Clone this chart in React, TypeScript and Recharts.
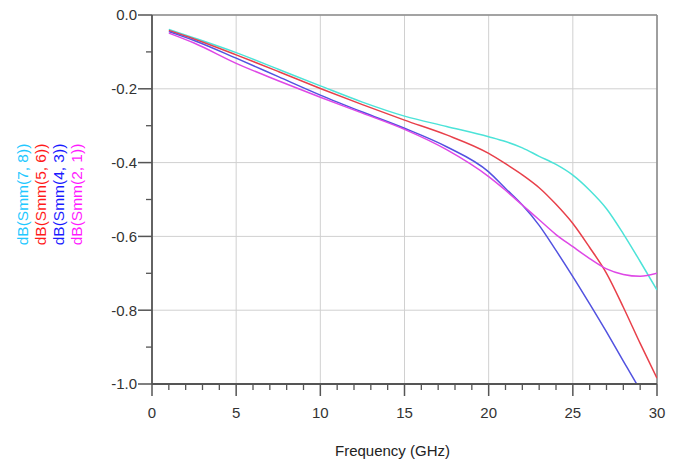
import React from 'react';
import { LineChart, Line, XAxis, YAxis, CartesianGrid, ReferenceLine } from 'recharts';

const freqs = [1, 2.5, 5, 7.5, 10, 12.5, 15, 17.5, 20, 21, 22, 23, 24, 25, 26, 27, 28, 29, 30];
const s78 = [-0.039, -0.062, -0.102, -0.147, -0.192, -0.236, -0.274, -0.302, -0.33, -0.343, -0.36, -0.383, -0.405, -0.434, -0.475, -0.525, -0.593, -0.668, -0.745];
const s56 = [-0.042, -0.065, -0.108, -0.153, -0.199, -0.243, -0.285, -0.325, -0.375, -0.403, -0.433, -0.468, -0.513, -0.565, -0.63, -0.7, -0.792, -0.89, -0.984];
const s43 = [-0.045, -0.069, -0.117, -0.167, -0.217, -0.263, -0.307, -0.357, -0.425, -0.47, -0.515, -0.57, -0.638, -0.709, -0.783, -0.859, -0.938, -1.016, -1.09];
const s21 = [-0.049, -0.076, -0.131, -0.178, -0.223, -0.266, -0.31, -0.365, -0.438, -0.475, -0.515, -0.555, -0.595, -0.628, -0.66, -0.688, -0.703, -0.708, -0.7];

const seriesLabels = ['dB(Smm(7, 8))', 'dB(Smm(5, 6))', 'dB(Smm(4, 3))', 'dB(Smm(2, 1))'];
const labelColors = ['#22C8FF', '#FF1A1A', '#1A1AFF', '#FF1AFF'];
const lineColors = ['#4CE3D8', '#E8404A', '#5252E0', '#DE48E6'];
const xAxisTitle = 'Frequency (GHz)';

const xAllTicks = Array.from({ length: 31 }, (_, i) => i);
const xMajorStep = 5;
const yAllTicks = [0, -0.1, -0.2, -0.3, -0.4, -0.5, -0.6, -0.7, -0.8, -0.9, -1.0];
const yMajorTicks = [0, -0.2, -0.4, -0.6, -0.8, -1.0];

const data = freqs.map((f, i) => ({ f, s78: s78[i], s56: s56[i], s43: s43[i], s21: s21[i] }));
const keys = ['s78', 's56', 's43', 's21'];

const FONT = 'Arial, "Liberation Sans", sans-serif';
const AXIS = '#555';

const isYMajor = (v: number) => yMajorTicks.some((m) => Math.abs(m - v) < 1e-6);

const XTick = (props: any) => {
  const { x, y, payload } = props;
  const v = payload.value;
  const major = Math.abs(v % xMajorStep) < 1e-6;
  const len = major ? 12 : 6;
  return (
    <g>
      <line x1={x} x2={x} y1={y} y2={y + len} stroke={AXIS} strokeWidth={major ? 1.5 : 1.3} />
      {major && (
        <text x={x} y={y + 23} dy="0.71em" textAnchor="middle" fontSize={15} fontFamily={FONT} fill="#333">
          {String(v)}
        </text>
      )}
    </g>
  );
};

const YTick = (props: any) => {
  const { x, y, payload } = props;
  const v = payload.value;
  const major = isYMajor(v);
  const len = major ? 14 : 6;
  return (
    <g>
      <line x1={x - len} x2={x} y1={y} y2={y} stroke={AXIS} strokeWidth={major ? 1.5 : 1.3} />
      {major && (
        <text x={x - 15} y={y} dy="0.355em" textAnchor="end" fontSize={15} fontFamily={FONT} fill="#333">
          {Math.abs(v) < 1e-9 ? '0.0' : v.toFixed(1)}
        </text>
      )}
    </g>
  );
};

const YLabel = (props: any) => {
  const vb = props.viewBox || { x: 0, y: 15, width: 144, height: 369 };
  const cy = vb.y + vb.height / 2 - 5;
  const xs = [14, 32, 50, 68];
  return (
    <g>
      {seriesLabels.map((t, i) => (
        <text
          key={t}
          x={vb.x + xs[i]}
          y={cy}
          transform={`rotate(-90, ${vb.x + xs[i]}, ${cy})`}
          textAnchor="middle"
          dominantBaseline="central"
          fontSize={15.5}
          fontFamily={FONT}
          fill={labelColors[i]}
        >
          {t}
        </text>
      ))}
    </g>
  );
};

const XLabel = (props: any) => {
  const vb = props.viewBox || { x: 144, y: 384, width: 505, height: 79 };
  return (
    <text
      x={vb.x + vb.width / 2 - 12}
      y={vb.y + 72}
      textAnchor="middle"
      fontSize={15}
      fontFamily={FONT}
      fill="#222"
    >
      {xAxisTitle}
    </text>
  );
};

export default function App() {
  return (
    <div style={{ marginTop: -8 }}>
      <LineChart width={675} height={463} data={data} margin={{ top: 15, right: 26, left: 0, bottom: 0 }}>
        <CartesianGrid
          stroke="#d0d0d0"
          strokeWidth={1}
          horizontalValues={yMajorTicks}
          verticalValues={[0, 5, 10, 15, 20, 25, 30]}
        />
        <XAxis
          dataKey="f"
          type="number"
          domain={[0, 30]}
          allowDataOverflow
          ticks={xAllTicks}
          interval={0}
          tickSize={0}
          tickMargin={0}
          height={79}
          axisLine={{ stroke: AXIS, strokeWidth: 1.8 }}
          tickLine={false}
          tick={XTick}
          label={{ content: XLabel }}
        />
        <YAxis
          type="number"
          domain={[-1, 0]}
          allowDataOverflow
          ticks={yAllTicks}
          interval={0}
          tickSize={0}
          tickMargin={0}
          width={144}
          axisLine={{ stroke: AXIS, strokeWidth: 1.8 }}
          tickLine={false}
          tick={YTick}
          label={{ content: YLabel }}
        />
        <ReferenceLine y={0} stroke="#8c8c8c" strokeWidth={1.6} />
        <ReferenceLine x={30} stroke="#8c8c8c" strokeWidth={1.6} />
        {keys.map((k, i) => (
          <Line
            key={k}
            type="monotone"
            dataKey={k}
            stroke={lineColors[i]}
            strokeWidth={1.5}
            dot={false}
            isAnimationActive={false}
          />
        ))}
      </LineChart>
    </div>
  );
}
